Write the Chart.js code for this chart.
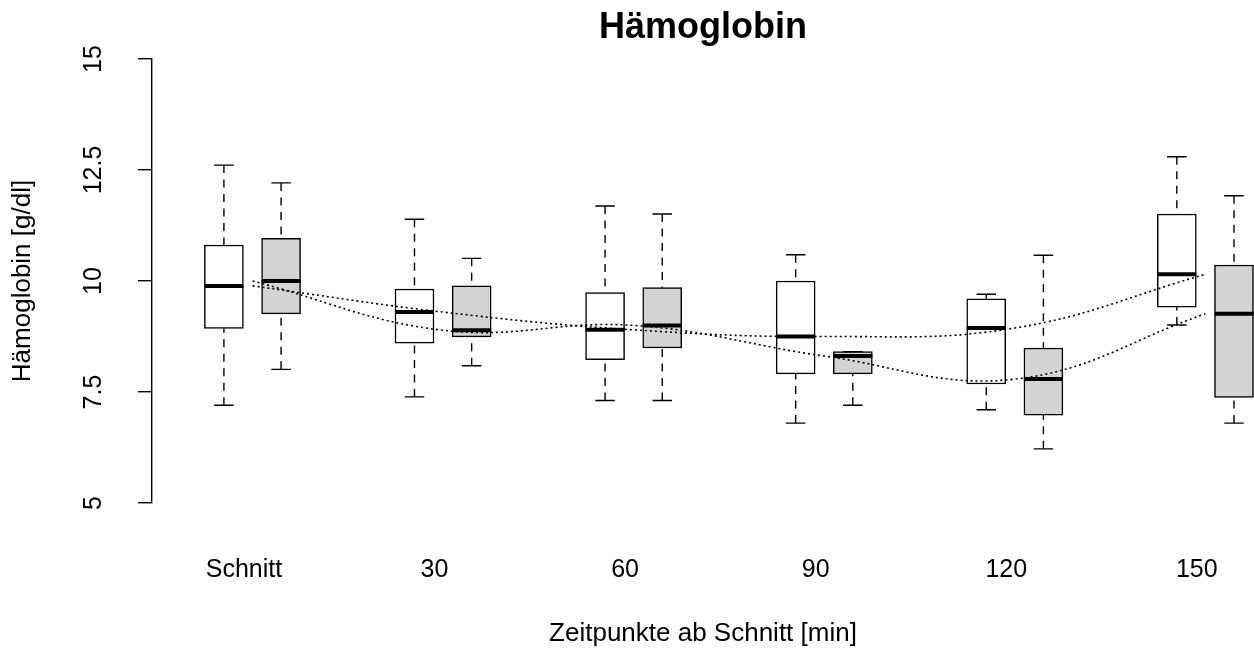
<!DOCTYPE html>
<html>
<head>
<meta charset="utf-8">
<script src="https://cdn.jsdelivr.net/npm/chart.js@4"></script>
<style>
  body { margin: 0; background: #fff; }
  #wrap { width: 1254px; height: 648px; }
</style>
</head>
<body>
<div id="wrap"><canvas id="chart"></canvas></div>
<script>
// categories and box statistics
const categories = ['Schnitt', '30', '60', '90', '120', '150'];

const whiteMin = [7.20, 7.39, 7.31, 6.80, 7.10, 9.01];
const whiteQ1  = [8.93, 8.60, 8.23, 7.91, 7.68, 9.41];
const whiteMed = [9.89, 9.30, 8.90, 8.75, 8.94, 10.15];
const whiteQ3  = [10.81, 9.82, 9.74, 10.00, 9.60, 11.51];
const whiteMax = [12.61, 11.39, 11.69, 10.59, 9.70, 12.80];

const greyMin = [8.01, 8.09, 7.31, 7.20, 6.22, 6.80];
const greyQ1  = [9.26, 8.74, 8.49, 7.91, 6.98, 7.38];
const greyMed = [10.00, 8.89, 9.00, 8.31, 7.79, 9.26];
const greyQ3  = [10.96, 9.89, 9.85, 8.41, 8.49, 10.36];
const greyMax = [12.21, 10.51, 11.51, 8.41, 10.58, 11.92];

const yTicks = [5, 7.5, 10, 12.5, 15];

const boxOffset = 0.15;     // each box sits this far left/right of the category
const labelShift = -0.045;  // tick labels sit a little left of the pair centre

const FONT = "'Liberation Sans', Arial, Helvetica, sans-serif";
Chart.defaults.font.family = FONT;
Chart.defaults.color = '#000';

function boxData(q1, q3, shift) {
    return q1.map((v, i) => ({ x: i + 1 + shift, y: [v, q3[i]] }));
}

function lineData(med) {
    return med.map((v, i) => ({ x: i + 1, y: v }));
}

const stats = {
    0: { min: whiteMin, med: whiteMed, max: whiteMax },
    1: { min: greyMin, med: greyMed, max: greyMax }
};

const boxExtras = {
    id: 'boxExtras',
    afterDatasetDraw(chart, args) {
        const s = stats[args.index];
        if (!s) return;
        const ctx = chart.ctx;
        const y = chart.scales.y;
        ctx.save();
        ctx.strokeStyle = '#000';
        args.meta.data.forEach((el, i) => {
            const cx = el.x;
            const half = el.width / 2;
            const yTop = Math.min(el.y, el.base);
            const yBot = Math.max(el.y, el.base);
            const yMax = y.getPixelForValue(s.max[i]);
            const yMin = y.getPixelForValue(s.min[i]);
            const yMed = y.getPixelForValue(s.med[i]);
            // whiskers
            ctx.lineWidth = 1.4;
            ctx.setLineDash([8, 6.5]);
            ctx.beginPath();
            ctx.moveTo(cx, yMax); ctx.lineTo(cx, yTop);
            ctx.moveTo(cx, yMin); ctx.lineTo(cx, yBot);
            ctx.stroke();
            // caps
            ctx.setLineDash([]);
            ctx.beginPath();
            ctx.moveTo(cx - half / 2, yMax); ctx.lineTo(cx + half / 2, yMax);
            ctx.moveTo(cx - half / 2, yMin); ctx.lineTo(cx + half / 2, yMin);
            ctx.stroke();
            // median
            ctx.lineWidth = 4;
            ctx.beginPath();
            ctx.moveTo(cx - half, yMed); ctx.lineTo(cx + half, yMed);
            ctx.stroke();
        });
        ctx.restore();
    }
};

// R-style rotated y tick labels
const yLabels = {
    id: 'yLabels',
    afterDraw(chart) {
        const ctx = chart.ctx;
        const y = chart.scales.y;
        ctx.save();
        ctx.font = '25px ' + FONT;
        ctx.fillStyle = '#000';
        ctx.textAlign = 'center';
        ctx.textBaseline = 'middle';
        y.ticks.forEach(t => {
            ctx.save();
            ctx.translate(94, y.getPixelForValue(t.value));
            ctx.rotate(-Math.PI / 2);
            ctx.fillText(String(t.value), 0, 0);
            ctx.restore();
        });
        ctx.restore();
    }
};

new Chart(document.getElementById('chart'), {
    type: 'bar',
    data: {
        datasets: [
            {
                data: boxData(whiteQ1, whiteQ3, -boxOffset),
                backgroundColor: '#ffffff',
                borderColor: '#000',
                borderWidth: 1.5,
                borderSkipped: false,
                barThickness: 39,
                grouped: false,
                order: 2
            },
            {
                data: boxData(greyQ1, greyQ3, boxOffset),
                backgroundColor: '#d3d3d3',
                borderColor: '#000',
                borderWidth: 1.5,
                borderSkipped: false,
                barThickness: 39,
                grouped: false,
                order: 2
            },
            {
                type: 'line',
                data: lineData(whiteMed),
                borderColor: '#000',
                borderWidth: 1.6,
                borderDash: [2, 3],
                pointRadius: 0,
                tension: 0.4,
                fill: false,
                order: 1
            },
            {
                type: 'line',
                data: lineData(greyMed),
                borderColor: '#000',
                borderWidth: 1.6,
                borderDash: [2, 3],
                pointRadius: 0,
                tension: 0.4,
                fill: false,
                order: 1
            }
        ]
    },
    options: {
        responsive: true,
        maintainAspectRatio: false,
        animation: false,
        layout: { padding: 0 },
        plugins: {
            legend: { display: false },
            tooltip: { enabled: false },
            title: {
                display: true,
                text: 'Hämoglobin',
                fullSize: false,
                color: '#000',
                font: { size: 36, weight: 'bold', lineHeight: 1.2 },
                padding: { top: 6.6, bottom: 9.2 }
            }
        },
        scales: {
            x: {
                type: 'linear',
                min: 0.4727,
                max: 6.255,
                offset: false,
                grid: { display: false, drawTicks: false },
                border: { display: false },
                afterBuildTicks: scale => {
                    scale.ticks = categories.map((c, i) => ({ value: i + 1 + labelShift }));
                },
                afterFit: scale => {
                    scale.height = 145;
                    scale.paddingLeft = 0;
                    scale.paddingRight = 0;
                },
                ticks: {
                    font: { size: 25 },
                    padding: 52,
                    maxRotation: 0,
                    autoSkip: false,
                    callback: (v, i) => categories[i]
                },
                title: {
                    display: true,
                    text: 'Zeitpunkte ab Schnitt [min]',
                    font: { size: 26, lineHeight: 1 },
                    padding: { top: 0, bottom: 1 }
                }
            },
            y: {
                min: 5,
                max: 15,
                afterBuildTicks: scale => {
                    scale.ticks = yTicks.map(v => ({ value: v }));
                },
                afterFit: scale => {
                    scale.width = 152;
                    scale.paddingTop = 0;
                    scale.paddingBottom = 0;
                },
                grid: {
                    drawOnChartArea: false,
                    drawTicks: true,
                    tickLength: 14,
                    color: '#000',
                    lineWidth: 1.4
                },
                border: { display: true, color: '#000', width: 1.4 },
                ticks: { display: false },
                title: {
                    display: true,
                    text: 'Hämoglobin [g/dl]',
                    font: { size: 26, lineHeight: 1 },
                    padding: { top: 10, bottom: 0 }
                }
            }
        }
    },
    plugins: [boxExtras, yLabels]
});
</script>
</body>
</html>
